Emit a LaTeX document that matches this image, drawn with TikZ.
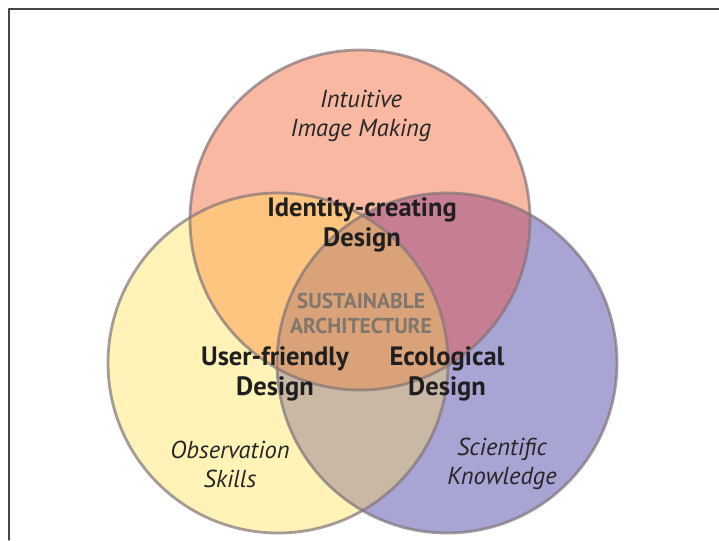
\documentclass[tikz,border=0pt]{standalone}
\usepackage{fontspec}
\setmainfont{PT Sans}
\definecolor{topfill}{RGB}{248,184,162}
\definecolor{leftfill}{RGB}{255,243,184}
\definecolor{rightfill}{RGB}{168,164,212}
\definecolor{tlfill}{RGB}{253,197,128}
\definecolor{trfill}{RGB}{198,127,146}
\definecolor{lrfill}{RGB}{201,185,164}
\definecolor{midfill}{RGB}{217,162,120}
\definecolor{ringcol}{RGB}{130,115,120}
\definecolor{framecol}{RGB}{70,70,70}
\definecolor{coretext}{RGB}{128,118,108}
\tikzset{
  ring/.style={draw=ringcol, draw opacity=0.7, line width=2.8pt},
  skill/.style={align=center, font=\itshape\fontsize{24.5}{29}\selectfont, text=black!85},
  design/.style={align=center, font=\bfseries\fontsize{26.5}{30}\selectfont, text=black!88},
  core/.style={align=center, font=\bfseries\fontsize{21.5}{25}\selectfont, text=coretext}
}
\begin{document}
\begin{tikzpicture}[x=1pt, y=-1pt, line join=round, line cap=round]
  \def\r{170pt} % radius of each circle
  \useasboundingbox (0,0) rectangle (719,540);
  \draw[framecol, line width=1.4pt] (9,540) -- (9,9) -- (719,9);
  \coordinate (T) at (360,220);
  \coordinate (L) at (278,363);
  \coordinate (R) at (447,363);
  % plain circles
  \fill[topfill] (T) circle (\r);
  \fill[leftfill] (L) circle (\r);
  \fill[rightfill] (R) circle (\r);
  % overlaps
  \begin{scope}
    \clip (T) circle (\r);
    \fill[tlfill] (L) circle (\r);
    \fill[trfill] (R) circle (\r);
  \end{scope}
  \begin{scope}
    \clip (L) circle (\r);
    \fill[lrfill] (R) circle (\r);
    \clip (R) circle (\r);
    \fill[midfill] (T) circle (\r);
  \end{scope}
  % rims
  \draw[ring] (T) circle (\r);
  \draw[ring] (L) circle (\r);
  \draw[ring] (R) circle (\r);
  % labels
  \node[skill] (intuitive) at (361,116) {Intuitive\\Image Making};
  \node[skill] (observation) at (230,464) {Observation\\Skills};
  \node[skill] (scientific) at (502,464) {Scientific\\Knowledge};
  \node[design] (identity) at (362,225) {Identity-creating\\Design};
  \node[design] (userfriendly) at (275,374) {User-friendly\\Design};
  \node[design] (ecological) at (447,374) {Ecological\\Design};
  \node[core] (sustainable) at (361,313) {SUSTAINABLE\\ARCHITECTURE};
\end{tikzpicture}
\end{document}
